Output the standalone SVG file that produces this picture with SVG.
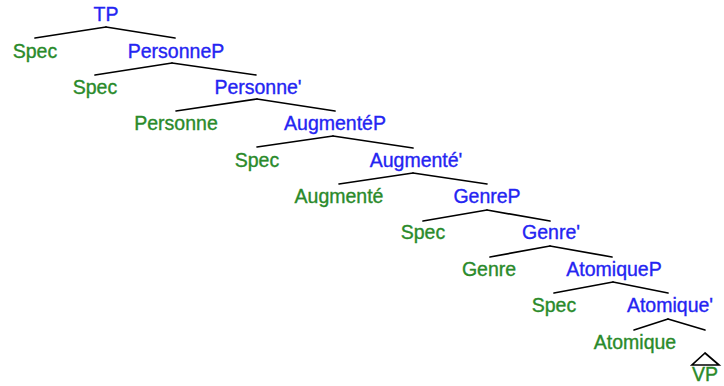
<svg xmlns="http://www.w3.org/2000/svg" width="724" height="386" viewBox="0 0 724 386">
<style>
text{font-family:"Liberation Sans",Arial,sans-serif;font-size:19.5px;text-anchor:middle;stroke-width:0.35px}
.p{fill:#2424f2;stroke:#2424f2}
.h{fill:#2a8a2a;stroke:#2a8a2a}
.e line,.e polygon{stroke:#000;stroke-width:1.7;fill:none;stroke-linecap:round}
</style>
<rect width="724" height="386" fill="#fff"/>
<g class="e" id="connectors">
<line x1="106" y1="27" x2="35" y2="38"/><line x1="106" y1="27" x2="175" y2="38"/>
<line x1="172" y1="63" x2="95" y2="75"/><line x1="172" y1="63" x2="256" y2="75"/>
<line x1="257" y1="99" x2="176" y2="111"/><line x1="257" y1="99" x2="335" y2="111"/>
<line x1="333" y1="136" x2="257" y2="147"/><line x1="333" y1="136" x2="413" y2="148"/>
<line x1="413" y1="173" x2="339" y2="184"/><line x1="413" y1="173" x2="487" y2="184"/>
<line x1="487" y1="210" x2="423" y2="221"/><line x1="487" y1="210" x2="550" y2="221"/>
<line x1="550" y1="246" x2="490" y2="257"/><line x1="550" y1="246" x2="612" y2="257"/>
<line x1="613" y1="282" x2="554" y2="293"/><line x1="613" y1="282" x2="668" y2="293"/>
<line x1="668" y1="319" x2="634" y2="330"/><line x1="668" y1="319" x2="705" y2="330"/>
<polygon points="705,353 692,365 719,365"/>
</g>
<g id="TP"><text class="p" x="106" y="21">TP</text></g>
<g id="Spec1"><text class="h" x="35" y="57.5">Spec</text></g>
<g id="PersonneP"><text class="p" x="176" y="57.5">PersonneP</text></g>
<g id="Spec2"><text class="h" x="95" y="94">Spec</text></g>
<g id="PersonneBar"><text class="p" x="258" y="94">Personne'</text></g>
<g id="Personne"><text class="h" x="176" y="130">Personne</text></g>
<g id="AugmenteP"><text class="p" x="335" y="130">AugmentéP</text></g>
<g id="Spec3"><text class="h" x="257" y="167">Spec</text></g>
<g id="AugmenteBar"><text class="p" x="416" y="167">Augmenté'</text></g>
<g id="Augmente"><text class="h" x="339" y="203">Augmenté</text></g>
<g id="GenreP"><text class="p" x="487" y="203">GenreP</text></g>
<g id="Spec4"><text class="h" x="423" y="239">Spec</text></g>
<g id="GenreBar"><text class="p" x="551" y="239">Genre'</text></g>
<g id="Genre"><text class="h" x="489" y="276">Genre</text></g>
<g id="AtomiqueP"><text class="p" x="614" y="276">AtomiqueP</text></g>
<g id="Spec5"><text class="h" x="554" y="312">Spec</text></g>
<g id="AtomiqueBar"><text class="p" x="670" y="312">Atomique'</text></g>
<g id="Atomique"><text class="h" x="635" y="349">Atomique</text></g>
<g id="VP"><text class="h" x="705" y="381">VP</text></g>
</svg>
